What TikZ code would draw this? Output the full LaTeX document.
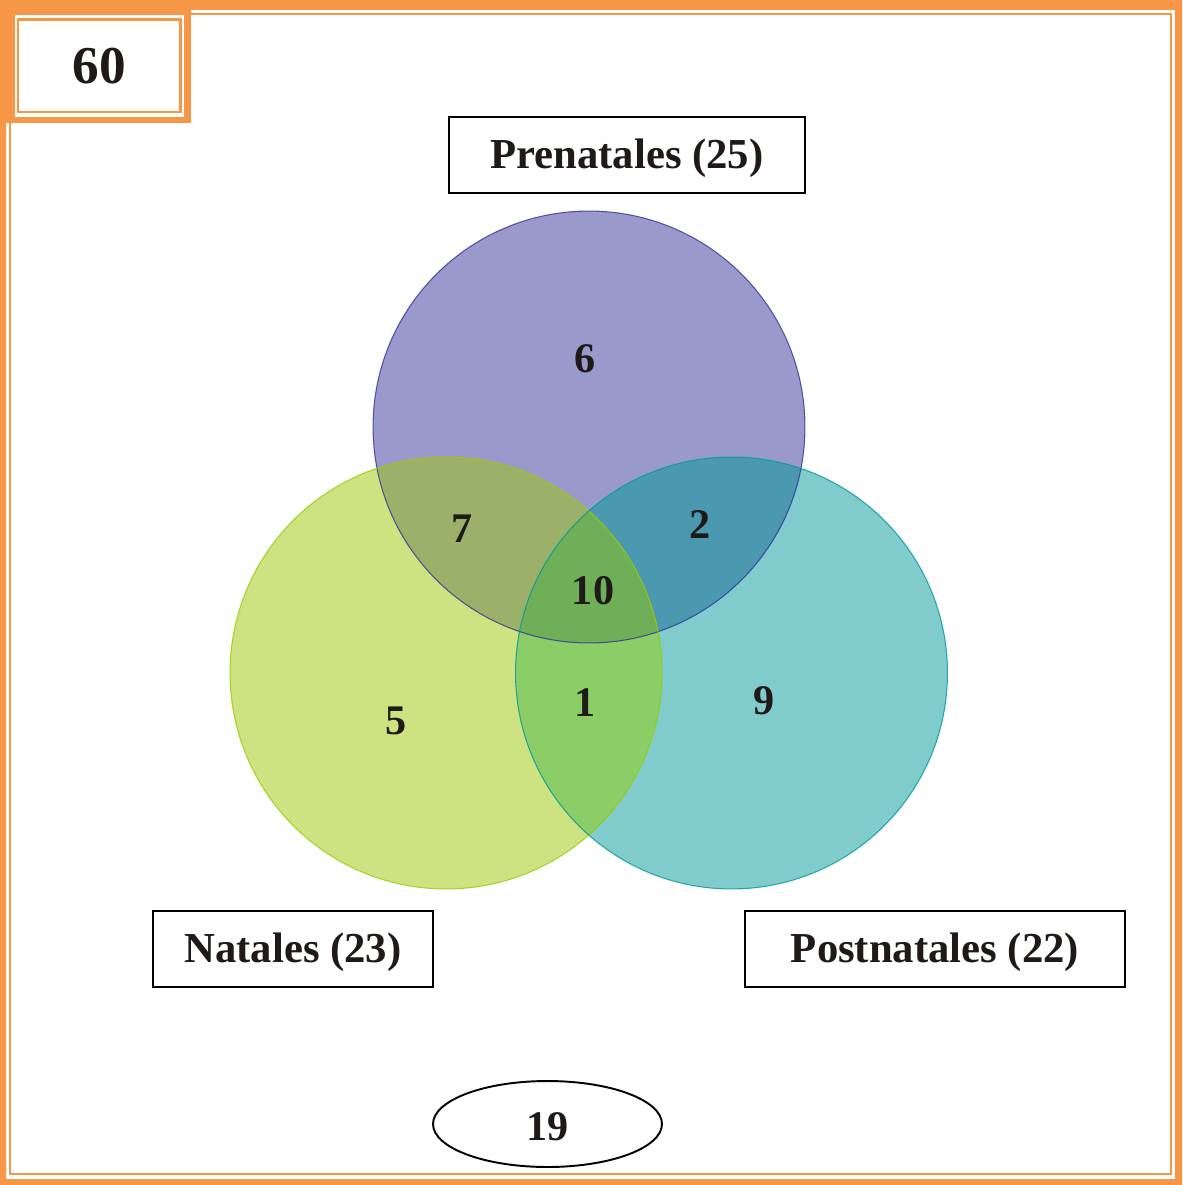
\documentclass[tikz,border=0pt]{standalone}
\usepackage{fontspec}
\setmainfont{Liberation Serif}
\usetikzlibrary{shapes.geometric}
\definecolor{orng}{HTML}{F79646}
\definecolor{txt}{HTML}{1F1A17}
\definecolor{cTop}{HTML}{9999CC}
\definecolor{cLeft}{HTML}{CDE381}
\definecolor{cRight}{HTML}{80CBCC}
\definecolor{cTL}{HTML}{9BB068}
\definecolor{cTR}{HTML}{4A99B1}
\definecolor{cLR}{HTML}{8BCD66}
\definecolor{cAll}{HTML}{6EAF58}
\definecolor{sTop}{HTML}{333399}
\definecolor{sLeft}{HTML}{99CC00}
\definecolor{sRight}{HTML}{009999}
\tikzset{
  lbl/.style={draw=black, line width=1.1pt, fill=white, inner sep=0pt, minimum height=1.52cm,
    text height=20.2pt, text depth=5.3pt,
    font=\fontsize{24.3}{28}\selectfont\bfseries, text=txt},
  num/.style={font=\fontsize{24}{28}\selectfont\bfseries, text=txt, inner sep=0pt},
}
\begin{document}
\begin{tikzpicture}[x=0.02cm, y=-0.02cm]
\useasboundingbox (0,0) rectangle (1182,1185);
% outer border
\fill[orng, even odd rule] (0,0) rectangle (1182,1185) (6,10) rectangle (1175,1179);
\draw[orng, line width=1.13pt] (10,14) rectangle (1171,1174);
% top-left box
\fill[orng] (0,0) rectangle (191,123);
\fill[white] (15,15) rectangle (184,117);
\draw[orng, line width=1.4pt] (18,19.5) rectangle (180.5,112);
\node[font=\fontsize{30.3}{34}\selectfont\bfseries, text=txt, inner sep=0pt] (total) at (99,66) {60};
% circle centres
\coordinate (P) at (589,427);
\coordinate (N) at (446,673);
\coordinate (Q) at (731.5,673);
\def\R{4.32cm}
% region fills
\fill[cTop] (P) circle[radius=\R];
\fill[cLeft] (N) circle[radius=\R];
\fill[cRight] (Q) circle[radius=\R];
\begin{scope}
  \clip (P) circle[radius=\R];
  \fill[cTL] (N) circle[radius=\R];
  \fill[cTR] (Q) circle[radius=\R];
\end{scope}
\begin{scope}
  \clip (N) circle[radius=\R];
  \fill[cLR] (Q) circle[radius=\R];
\end{scope}
\begin{scope}
  \clip (P) circle[radius=\R];
  \clip (N) circle[radius=\R];
  \fill[cAll] (Q) circle[radius=\R];
\end{scope}
% outlines
\draw[sTop, line width=0.6pt, draw opacity=0.8] (P) circle[radius=\R];
\draw[sLeft, line width=0.6pt, draw opacity=0.8] (N) circle[radius=\R];
\draw[sRight, line width=0.6pt, draw opacity=0.8] (Q) circle[radius=\R];
% labels
\node[lbl, minimum width=7.12cm] (pre) at (627,155) {Prenatales (25)};
\node[lbl, minimum width=5.6cm] (nat) at (293,949) {Natales (23)};
\node[lbl, minimum width=7.6cm] (post) at (935,949) {Postnatales (22)};
% numbers
\node[num] (n6) at (585,359) {6};
\node[num] (n7) at (462,529) {7};
\node[num] (n2) at (700,525) {2};
\node[num] (n10) at (593,591) {10};
\node[num] (n5) at (396,721) {5};
\node[num] (n1) at (585,703) {1};
\node[num] (n9) at (764,701) {9};
\node[ellipse, draw=black, line width=1.1pt, minimum width=4.58cm, minimum height=1.72cm, inner sep=0pt,
  text height=19.2pt, text depth=0pt,
  font=\fontsize{24}{28}\selectfont\bfseries, text=txt] (out) at (547.5,1124) {19};
\end{tikzpicture}
\end{document}
